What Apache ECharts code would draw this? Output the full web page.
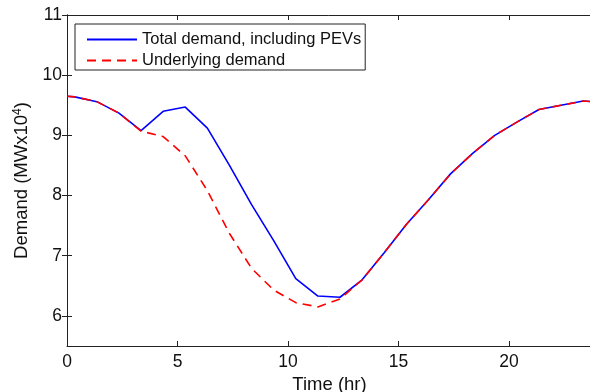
<!DOCTYPE html>
<html>
<head>
<meta charset="utf-8">
<title>Demand</title>
<script src="https://cdn.jsdelivr.net/npm/echarts@6/dist/echarts.min.js"></script>
<style>
  html, body { margin: 0; padding: 0; background: #fff; }
  #chart { width: 590px; height: 392px; }
</style>
</head>
<body>
<div id="chart"></div>
<script>
// hours of the day
const times = [0, 0.35, 1.35, 2.35, 3.35, 4.35, 5.35, 6.35, 7.35, 8.35, 9.35, 10.35, 11.35,
  12.35, 13.35, 14.35, 15.35, 16.35, 17.35, 18.35, 19.35, 20.35, 21.35, 22.35, 23.35, 23.75];

// demand, MW x 10^4
const totalDemand = [9.65, 9.64, 9.56, 9.37, 9.08, 9.40, 9.47, 9.12, 8.50, 7.85, 7.25, 6.62, 6.33,
  6.31, 6.60, 7.05, 7.52, 7.93, 8.36, 8.70, 9.00, 9.22, 9.43, 9.50, 9.57, 9.56];
const underlyingDemand = [9.65, 9.64, 9.56, 9.37, 9.07, 8.98, 8.66, 8.08, 7.37, 6.79, 6.43, 6.22, 6.15,
  6.28, 6.60, 7.05, 7.52, 7.93, 8.36, 8.70, 9.00, 9.22, 9.43, 9.50, 9.57, 9.56];

const xTicks = [0, 5, 10, 15, 20];
const yTicks = [6, 7, 8, 9, 10, 11];

const FONT = "'Liberation Sans', Arial, Helvetica, sans-serif";
const AXIS_COLOR = '#222';

const chart = echarts.init(document.getElementById('chart'), null, { renderer: 'canvas' });

const axisLine = { show: true, lineStyle: { color: AXIS_COLOR, width: 1 } };

const option = {
  animation: false,
  // fixed plot box; the x title is allowed to run off the bottom edge like in the original
  grid: { left: 67, top: 15, width: 525, height: 331, outerBoundsMode: 'none' },
  legend: {
    left: 75,
    top: 24,
    orient: 'vertical',
    selectedMode: false,
    borderColor: AXIS_COLOR,
    borderWidth: 1,
    padding: [7, 4, 1, 11],
    itemWidth: 50,
    itemHeight: 14,
    itemGap: 4,
    itemStyle: { opacity: 0 }, // no marker on the legend line
    textStyle: { fontFamily: FONT, fontSize: 16.5, color: '#111' },
    data: ['Total demand, including PEVs', 'Underlying demand']
  },
  xAxis: [
    {
      type: 'value',
      min: 0,
      max: 23.75,
      name: 'Time (hr)',
      nameLocation: 'middle',
      nameGap: 29,
      nameTextStyle: { fontFamily: FONT, fontSize: 18.5, color: '#111' },
      axisLine: axisLine,
      axisTick: { inside: true, length: 5, customValues: xTicks, lineStyle: { color: AXIS_COLOR } },
      axisLabel: { customValues: xTicks, margin: 7, fontFamily: FONT, fontSize: 17.5, color: '#111' },
      splitLine: { show: false }
    },
    {
      type: 'value',
      position: 'top',
      min: 0,
      max: 23.75,
      axisLine: axisLine,
      axisTick: { inside: true, length: 5, customValues: xTicks, lineStyle: { color: AXIS_COLOR } },
      axisLabel: { show: false },
      splitLine: { show: false }
    }
  ],
  yAxis: [
    {
      type: 'value',
      min: 5.5,
      max: 11,
      name: '{a|Demand (MWx10}{s|4}{a|)}',
      nameLocation: 'middle',
      nameGap: 34.5,
      nameTextStyle: {
        color: '#111',
        rich: {
          a: { fontFamily: FONT, fontSize: 18.5, color: '#111' },
          s: { fontFamily: FONT, fontSize: 12, color: '#111', verticalAlign: 'top', padding: [0, 0, 8, 0] }
        }
      },
      axisLine: axisLine,
      axisTick: { inside: true, length: 5, customValues: yTicks, lineStyle: { color: AXIS_COLOR } },
      axisLabel: { customValues: yTicks, margin: 5, fontFamily: FONT, fontSize: 17.5, color: '#111' },
      splitLine: { show: false }
    },
    {
      type: 'value',
      position: 'right',
      min: 5.5,
      max: 11,
      axisLine: axisLine,
      axisTick: { inside: true, length: 5, customValues: yTicks, lineStyle: { color: AXIS_COLOR } },
      axisLabel: { show: false },
      splitLine: { show: false }
    }
  ],
  series: [
    {
      name: 'Total demand, including PEVs',
      type: 'line',
      symbol: 'none',
      z: 2,
      data: times.map((t, i) => [t, totalDemand[i]]),
      lineStyle: { color: '#0000ff', width: 1.6 },
      itemStyle: { color: '#0000ff' }
    },
    {
      name: 'Underlying demand',
      type: 'line',
      symbol: 'none',
      z: 3,
      data: times.map((t, i) => [t, underlyingDemand[i]]),
      lineStyle: { color: '#ff0000', width: 1.6, type: [9, 6] },
      itemStyle: { color: '#ff0000' }
    }
  ]
};

chart.setOption(option);
</script>
</body>
</html>
